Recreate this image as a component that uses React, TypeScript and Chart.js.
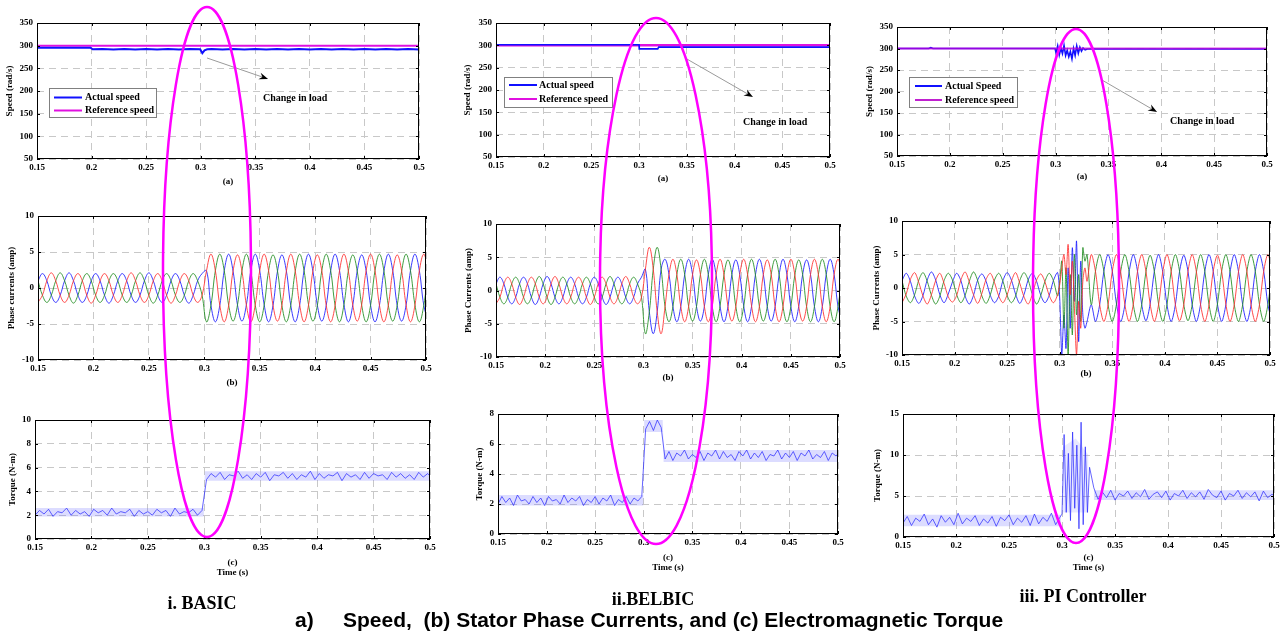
import React, { useEffect, useRef } from 'react';
import { Chart, registerables } from 'chart.js';

Chart.register(...registerables);

const SERIF = 'Liberation Serif';
const SANS = 'Liberation Sans';

// ---------------- axis ticks ----------------
const X_TICKS = [0.15, 0.2, 0.25, 0.3, 0.35, 0.4, 0.45, 0.5];
const SPEED_TICKS = [50, 100, 150, 200, 250, 300, 350];
const CURRENT_TICKS = [-10, -5, 0, 5, 10];
const TORQUE_TICKS_BASIC = [0, 2, 4, 6, 8, 10];
const TORQUE_TICKS_BELBIC = [0, 2, 4, 6, 8];
const TORQUE_TICKS_PI = [0, 5, 10, 15];

// ---------------- time bases (s) ----------------
const T_GRID = [
  0.150, 0.154, 0.158, 0.162, 0.166, 0.170, 0.174, 0.178, 0.182, 0.186, 0.190, 0.194, 0.198,
  0.202, 0.206, 0.210, 0.214, 0.218, 0.222, 0.226, 0.230, 0.234, 0.238, 0.242, 0.246, 0.250,
  0.254, 0.258, 0.262, 0.266, 0.270, 0.274, 0.278, 0.282, 0.286, 0.290, 0.294, 0.298,
  0.302, 0.306, 0.310, 0.314, 0.318, 0.322, 0.326, 0.330, 0.334, 0.338, 0.342, 0.346, 0.350,
  0.354, 0.358, 0.362, 0.366, 0.370, 0.374, 0.378, 0.382, 0.386, 0.390, 0.394, 0.398, 0.402,
  0.406, 0.410, 0.414, 0.418, 0.422, 0.426, 0.430, 0.434, 0.438, 0.442, 0.446, 0.450, 0.454,
  0.458, 0.462, 0.466, 0.470, 0.474, 0.478, 0.482, 0.486, 0.490, 0.494, 0.498, 0.502,
];
const T_PI = [
  0.150, 0.154, 0.158, 0.162, 0.166, 0.170, 0.174, 0.178, 0.182, 0.186, 0.190, 0.194, 0.198,
  0.202, 0.206, 0.210, 0.214, 0.218, 0.222, 0.226, 0.230, 0.234, 0.238, 0.242, 0.246, 0.250,
  0.254, 0.258, 0.262, 0.266, 0.270, 0.274, 0.278, 0.282, 0.286, 0.290, 0.294, 0.298,
  0.300, 0.302, 0.304, 0.306, 0.308, 0.310, 0.312, 0.314, 0.316, 0.318, 0.320, 0.322, 0.324, 0.326,
  0.330, 0.334, 0.338, 0.342, 0.346, 0.350, 0.354, 0.358, 0.362, 0.366, 0.370, 0.374, 0.378,
  0.382, 0.386, 0.390, 0.394, 0.398, 0.402, 0.406, 0.410, 0.414, 0.418, 0.422, 0.426, 0.430,
  0.434, 0.438, 0.442, 0.446, 0.450, 0.454, 0.458, 0.462, 0.466, 0.470, 0.474, 0.478, 0.482,
  0.486, 0.490, 0.494, 0.498, 0.502,
];

// ---------------- speed (rad/s) ----------------
const SPEED_REF_T = [0.15, 0.5];
const SPEED_REF_V = [300, 300];

const BASIC_SPEED_T = [0.15, 0.199, 0.201, 0.21, 0.22, 0.23, 0.24, 0.25, 0.26, 0.27, 0.28, 0.29,
  0.2995, 0.3015, 0.3035, 0.306, 0.31, 0.32, 0.33, 0.34, 0.35, 0.36, 0.37, 0.38, 0.39, 0.4,
  0.41, 0.42, 0.43, 0.44, 0.45, 0.46, 0.47, 0.48, 0.49, 0.5];
const BASIC_SPEED_V = [295.5, 295.5, 292, 292.8, 291.6, 292.8, 291.6, 292.8, 291.6, 292.8, 291.6, 292.8,
  292, 283.5, 289.5, 292, 292.8, 291.6, 292.8, 291.6, 292.8, 291.6, 292.8, 291.6, 292.8, 291.6,
  292.8, 291.6, 292.8, 291.6, 292.8, 291.6, 292.8, 291.6, 292.8, 291.6];

const BELBIC_SPEED_T = [0.15, 0.2999, 0.3001, 0.3195, 0.3205, 0.5];
const BELBIC_SPEED_V = [301.3, 301.3, 292, 292, 296, 296];

const PI_SPEED_T = [0.15, 0.18, 0.182, 0.184, 0.2, 0.25, 0.2995, 0.3005, 0.302, 0.3035, 0.305,
  0.3065, 0.308, 0.3095, 0.311, 0.3125, 0.314, 0.3155, 0.317, 0.3185, 0.32, 0.3215, 0.323,
  0.3245, 0.326, 0.328, 0.33, 0.35, 0.5];
const PI_SPEED_V = [300, 300, 302, 300, 300, 300, 300, 290, 306, 285, 301, 288, 307, 284, 296,
  281, 293, 276, 300, 284, 306, 289, 303, 294, 301, 297, 299, 299, 299];

// ---------------- phase currents (amp) ----------------
const BASIC_IA = [
  -2, -1, 1, 2.1, 1, -1, -2, -1, 1, 2, 1, -1, -2.1, -1, 1, 2, 1, -1, -2, -1, 1, 2.1, 1, -1,
  -2, -1, 1, 2, 1, -1, -2.1, -1, 1, 2, 1, -1, -2, -1,
  2.4, 4.7, 2.4, -2.4, -4.7, -2.4, 2.4, 4.6, 2.3, -2.4, -4.7, -2.3, 2.4, 4.7, 2.4, -2.4, -4.6, -2.4,
  2.3, 4.7, 2.4, -2.3, -4.7, -2.4, 2.4, 4.6, 2.4, -2.4, -4.7, -2.4, 2.4, 4.7, 2.3, -2.4, -4.6, -2.3,
  2.4, 4.7, 2.4, -2.4, -4.7, -2.4, 2.3, 4.6, 2.4, -2.3, -4.7, -2.4, 2.4, 4.7, 2.4,
];
const BASIC_IB = [
  1, -1, -2, -1, 1, 2.1, 1, -1, -2.1, -1, 1, 2, 1, -1, -2, -1, 1, 2, 1, -1, -2, -1, 1, 2.1,
  1, -1, -2.1, -1, 1, 2, 1, -1, -2, -1, 1, 2, 1, -1,
  -4.7, -2.4, 2.4, 4.7, 2.4, -2.4, -4.6, -2.3, 2.4, 4.7, 2.3, -2.4, -4.7, -2.4, 2.4, 4.6, 2.4, -2.4,
  -4.7, -2.4, 2.3, 4.7, 2.4, -2.3, -4.6, -2.4, 2.4, 4.7, 2.4, -2.4, -4.7, -2.3, 2.4, 4.6, 2.3, -2.4,
  -4.7, -2.4, 2.4, 4.7, 2.4, -2.4, -4.6, -2.4, 2.3, 4.7, 2.4, -2.3, -4.7, -2.4, 2.4,
];
const BASIC_IC = [
  1, 2, 1, -1, -2, -1, 1, 2.1, 1, -1, -2, -1, 1, 2, 1, -1, -2.1, -1, 1, 2, 1, -1, -2, -1,
  1, 2.1, 1, -1, -2, -1, 1, 2, 1, -1, -2.1, -1, 1, 2,
  2.4, -2.4, -4.7, -2.4, 2.4, 4.7, 2.3, -2.4, -4.6, -2.3, 2.4, 4.7, 2.4, -2.3, -4.7, -2.4, 2.3, 4.6,
  2.4, -2.4, -4.7, -2.4, 2.4, 4.7, 2.3, -2.4, -4.6, -2.4, 2.4, 4.7, 2.4, -2.3, -4.7, -2.3, 2.4, 4.6,
  2.4, -2.4, -4.7, -2.4, 2.3, 4.7, 2.4, -2.4, -4.6, -2.4, 2.4, 4.7, 2.4, -2.4, -4.7,
];

const BELBIC_IA = [
  -2, -1, 1, 2, 1, -1, -2.1, -1, 1, 2, 1, -1, -2, -1, 1, 2.1, 1, -1, -2, -1, 1, 2, 1, -1,
  -2.1, -1, 1, 2, 1, -1, -2, -1, 1, 2.1, 1, -1, -2, -1,
  3.2, 6.5, 3.2, -3.2, -6.5, -2.4,
  2.4, 4.7, 2.4, -2.4, -4.7, -2.4, 2.4, 4.6, 2.4, -2.4, -4.7, -2.4, 2.4, 4.7, 2.3, -2.4, -4.6, -2.4,
  2.4, 4.7, 2.4, -2.3, -4.7, -2.4, 2.4, 4.6, 2.4, -2.4, -4.7, -2.4, 2.3, 4.7, 2.4, -2.4, -4.6, -2.4,
  2.4, 4.7, 2.4, -2.4, -4.7, -2.4, 2.4, 4.7, 2.4,
];
const BELBIC_IB = [
  1, -1, -2, -1, 1, 2, 1, -1, -2, -1, 1, 2.1, 1, -1, -2.1, -1, 1, 2, 1, -1, -2, -1, 1, 2,
  1, -1, -2, -1, 1, 2.1, 1, -1, -2, -1, 1, 2, 1, -1,
  -6.5, -3.2, 3.2, 6.5, 3.2, -2.4,
  -4.7, -2.4, 2.4, 4.7, 2.4, -2.4, -4.6, -2.4, 2.4, 4.7, 2.4, -2.4, -4.7, -2.3, 2.4, 4.6, 2.4, -2.4,
  -4.7, -2.4, 2.4, 4.7, 2.3, -2.4, -4.6, -2.4, 2.4, 4.7, 2.4, -2.4, -4.7, -2.4, 2.3, 4.6, 2.4, -2.4,
  -4.7, -2.4, 2.4, 4.7, 2.4, -2.4, -4.7, -2.4, 2.4,
];
const BELBIC_IC = [
  1, 2, 1, -1, -2, -1, 1, 2, 1, -1, -2.1, -1, 1, 2.1, 1, -1, -2, -1, 1, 2, 1, -1, -2, -1,
  1, 2, 1, -1, -2.1, -1, 1, 2, 1, -1, -2, -1, 1, 2,
  3.2, -3.2, -6.5, -3.2, 3.2, 4.7,
  2.4, -2.4, -4.7, -2.4, 2.4, 4.7, 2.4, -2.4, -4.6, -2.4, 2.4, 4.7, 2.3, -2.4, -4.7, -2.4, 2.4, 4.6,
  2.4, -2.3, -4.7, -2.4, 2.4, 4.7, 2.4, -2.4, -4.6, -2.4, 2.3, 4.7, 2.4, -2.4, -4.7, -2.4, 2.4, 4.6,
  2.4, -2.4, -4.7, -2.4, 2.4, 4.7, 2.4, -2.4, -4.7,
];

const PI_IA = [
  -2.2, -0.9, 1.3, 2.3, 0.8, -1.2, -2.4, -1.0, 1.1, 2.2, 0.7, -1.3, -2.1, -1.1, 1.2, 2.4, 0.9, -1.0,
  -2.3, -0.8, 1.3, 2.2, 0.8, -1.2, -2.2, -1.0, 1.0, 2.3, 0.7, -1.3, -2.4, -0.9, 1.2, 2.1, 0.9, -1.1,
  -2.2, -1.0,
  0.5, 3, 5, 2, 6.5, -1, 4, -3, -10, -2, -6, 1, 3, 1,
  5, 2.5, -2.5, -5, -2.5, 2.5, 5, 2.4, -2.5, -5, -2.4, 2.5, 5, 2.5, -2.4, -5, -2.5, 2.4,
  5, 2.5, -2.5, -4.9, -2.5, 2.5, 5, 2.4, -2.5, -5, -2.5, 2.5, 4.9, 2.5, -2.4, -5, -2.5, 2.4,
  5, 2.5, -2.5, -5, -2.5, 2.5, 5, 2.5,
];
const PI_IB = [
  1.1, -1.2, -2.2, -1.0, 1.2, 2.3, 1.0, -1.1, -2.4, -1.2, 1.1, 2.2, 1.2, -1.0, -2.2, -1.1, 1.0, 2.4,
  1.1, -1.2, -2.3, -1.0, 1.2, 2.2, 1.0, -1.1, -2.2, -1.2, 1.1, 2.3, 1.2, -1.0, -2.4, -1.1, 1.0, 2.2,
  1.1, -1.2,
  1, 4, -6, 3, -10, 2, -7, 5, -4, 2, -5, 6, 4, 5,
  -2.5, 2.5, 5, 2.5, -2.5, -5, -2.4, 2.5, 5, 2.4, -2.5, -5, -2.5, 2.4, 4.9, 2.5, -2.4, -5,
  -2.5, 2.5, 5, 2.5, -2.5, -4.9, -2.5, 2.4, 5, 2.5, -2.5, -5, -2.4, 2.5, 5, 2.4, -2.5, -5,
  -2.5, 2.5, 5, 2.5, -2.5, -5, -2.5, 2.5,
];
const PI_IC = [
  1.1, 2.2, 1.0, -1.2, -2.3, -1.1, 1.2, 2.4, 1.2, -1.0, -2.2, -0.9, 0.9, 2.2, 1.1, -1.2, -2.4, -1.1,
  1.2, 2.1, 1.0, -1.1, -2.2, -1.2, 1.1, 2.3, 1.2, -0.9, -2.3, -1.0, 1.2, 2.2, 1.0, -1.1, -2.2, -1.1,
  1.1, 2.3,
  -1.5, -10, -4, -9, 3, -6, 6, -2, 7, -8, 4, -4, -6, -5,
  -2.5, -5, -2.5, 2.5, 5, 2.5, -2.4, -5, -2.5, 2.4, 5, 2.5, -2.5, -4.9, -2.4, 2.5, 5, 2.4,
  -2.5, -5, -2.5, 2.5, 4.9, 2.5, -2.5, -5, -2.4, 2.5, 5, 2.5, -2.4, -5, -2.5, 2.4, 5, 2.5,
  -2.5, -5, -2.5, 2.5, 5, 2.5, -2.5, -5,
];

// ---------------- torque (N-m) ----------------
const BASIC_TQ = [
  2.0, 2.4, 2.1, 2.5, 1.9, 2.3, 2.2, 2.6, 2.0, 2.4, 2.1, 2.3, 1.9, 2.5, 2.2, 2.4, 2.0, 2.6, 2.1, 2.3,
  2.2, 2.5, 1.9, 2.4, 2.1, 2.3, 2.0, 2.5, 2.2, 2.4, 1.9, 2.6, 2.1, 2.3, 2.2, 2.5, 2.0, 2.4,
  5.0, 5.5, 5.2, 5.6, 5.0, 5.4, 5.3, 5.7, 5.1, 5.4, 5.0, 5.5, 5.2, 5.6, 4.9, 5.4, 5.3, 5.6, 5.1, 5.5,
  5.0, 5.4, 5.2, 5.7, 5.0, 5.5, 5.1, 5.4, 5.3, 5.6, 4.9, 5.5, 5.2, 5.4, 5.0, 5.6, 5.1, 5.5, 5.3, 5.4,
  5.0, 5.6, 5.2, 5.5, 5.1, 5.4, 5.0, 5.6, 5.2, 5.5, 5.1,
];
const BELBIC_TQ = [
  2.0, 2.5, 2.1, 2.4, 1.9, 2.6, 2.2, 2.3, 2.0, 2.5, 2.1, 2.4, 1.9, 2.5, 2.2, 2.3, 2.0, 2.6, 2.1, 2.4,
  2.2, 2.5, 1.9, 2.3, 2.1, 2.5, 2.0, 2.4, 2.2, 2.6, 1.9, 2.3, 2.1, 2.5, 2.0, 2.4, 2.2, 2.5,
  7.0, 7.5, 6.9, 7.6, 7.1,
  5.0, 5.5, 4.9, 5.4, 5.2, 5.6, 5.0, 5.3, 5.1, 5.5, 4.9, 5.4, 5.2, 5.6, 5.0, 5.5, 5.1, 5.3, 4.9, 5.5,
  5.2, 5.6, 5.0, 5.4, 5.1, 5.5, 4.9, 5.3, 5.2, 5.6, 5.0, 5.4, 5.1, 5.5, 4.9, 5.4, 5.2, 5.6, 5.0, 5.3,
  5.1, 5.5, 4.9, 5.4, 5.2, 5.5,
];
const PI_TQ = [
  1.7, 2.5, 1.4, 2.3, 1.9, 2.8, 1.5, 2.2, 1.2, 2.6, 1.8, 2.4, 1.5, 2.9, 1.6, 2.3, 1.9, 2.6, 1.4, 2.2,
  1.7, 2.5, 1.3, 2.4, 2.0, 2.7, 1.5, 2.3, 1.8, 2.6, 1.4, 2.8, 1.6, 2.4, 1.9, 2.9, 1.5, 2.4,
  2.8, 12.5, 3, 10.2, 2, 12.8, 3.5, 11.2, 1, 14, 1.5, 11, 3, 8.5,
  6.0, 4.6, 5.5, 4.8, 5.7, 4.5, 5.3, 5.0, 5.6, 4.7, 5.4, 4.9, 5.8, 4.6, 5.2, 5.5, 4.8, 5.6, 4.5, 5.3,
  5.0, 5.7, 4.7, 5.4, 4.9, 5.5, 4.6, 5.8, 5.1, 4.8, 5.6, 4.5, 5.3, 5.0, 5.7, 4.7, 5.4, 4.9, 5.5, 4.4,
  5.6, 4.8, 5.2, 5.0,
];

// torque ripple envelopes
const BASIC_BAND_T = [0.15, 0.2995, 0.3005, 0.5];
const BASIC_BAND_HI = [2.6, 2.6, 5.7, 5.7];
const BASIC_BAND_LO = [1.9, 1.9, 4.9, 4.9];
const BELBIC_BAND_T = [0.15, 0.2995, 0.3005, 0.3195, 0.3205, 0.5];
const BELBIC_BAND_HI = [2.6, 2.6, 7.6, 7.6, 5.6, 5.6];
const BELBIC_BAND_LO = [1.9, 1.9, 6.8, 6.8, 4.8, 4.8];
const PI_PRE_BAND_T = [0.15, 0.299];
const PI_PRE_BAND_HI = [2.7, 2.7];
const PI_PRE_BAND_LO = [1.3, 1.3];
const PI_TRANS_BAND_T = [0.301, 0.313, 0.325];
const PI_TRANS_BAND_HI = [11, 12, 10];
const PI_TRANS_BAND_LO = [3, 3, 3];
const PI_POST_BAND_T = [0.33, 0.5];
const PI_POST_BAND_HI = [5.7, 5.7];
const PI_POST_BAND_LO = [4.5, 4.5];

// ---------------- styles ----------------
const C = {
  red: 'rgba(255,45,45,0.85)',
  green: 'rgba(30,140,30,0.85)',
  blue: 'rgba(25,25,255,0.85)',
  actual: '#1010ff',
  ref: '#e010e0',
  refPI: 'rgba(200,0,215,0.72)',
  refPILegend: '#c020d0',
  torque: 'rgba(40,40,255,0.9)',
  band: 'rgba(120,120,255,0.26)',
  bandLight: 'rgba(140,140,255,0.2)',
};

const pts = (t: number[], v: number[]) => t.map((x, i) => ({ x, y: v[i] }));
const line = (t: number[], v: number[], color: string, width = 1, tension = 0) => ({
  data: pts(t, v), borderColor: color, borderWidth: width, tension, pointRadius: 0, fill: false,
});
const band = (t: number[], hi: number[], lo: number[], color: string) => [
  { data: pts(t, hi), borderColor: 'rgba(0,0,0,0)', borderWidth: 1, pointRadius: 0, fill: false },
  { data: pts(t, lo), borderColor: 'rgba(0,0,0,0)', borderWidth: 1, pointRadius: 0, fill: '-1', backgroundColor: color },
];

type Legend = { dx: number; dy: number; w: number; h: number; rowY: number[]; lineX: number[]; textX: number; rows: { label: string; color: string }[] };
type Spec = {
  id: string;
  box: { x: number; y: number; w: number; h: number };
  yW: number; pt: number; pr: number; xH: number;
  xTitle: string | string[]; xTitlePad: number;
  yTitle: string; yTitlePad: number;
  yTicks: number[];
  datasets: any[];
  legend?: Legend;
  arrow?: { from: [number, number]; to: [number, number] };
  note?: { at: [number, number]; text: string };
};

const speedLegend = (first: string, dx: number, dy: number, w: number, h: number, rowY: number[], lineX: number[], textX: number, refColor: string): Legend => ({
  dx, dy, w, h, rowY, lineX, textX,
  rows: [{ label: first, color: C.actual }, { label: 'Reference speed', color: refColor }],
});

const currents = (t: number[], a: number[], b: number[], c: number[], tension: number) => [
  line(t, a, C.red, 1, tension), line(t, b, C.green, 1, tension), line(t, c, C.blue, 1, tension),
];

const PANELS: Spec[] = [
  {
    id: 'basic-speed', box: { x: 0, y: 10, w: 431, h: 179 }, yW: 37, pt: 13, pr: 12, xH: 30,
    xTitle: '(a)', xTitlePad: 1.5, yTitle: 'Speed (rad/s)', yTitlePad: 4.6, yTicks: SPEED_TICKS,
    datasets: [line(BASIC_SPEED_T, BASIC_SPEED_V, C.actual, 2), line(SPEED_REF_T, SPEED_REF_V, C.ref, 2)],
    legend: speedLegend('Actual speed', 12, 65, 107, 29, [9.5, 22.5], [5, 33], 36, C.ref),
    arrow: { from: [0.3058, 272.8], to: [0.3617, 226.5] },
    note: { at: [0.357, 184.6], text: 'Change in load' },
  },
  {
    id: 'basic-current', box: { x: 0, y: 205, w: 436, h: 185 }, yW: 38, pt: 11, pr: 10, xH: 30,
    xTitle: '(b)', xTitlePad: 1.6, yTitle: 'Phase currents (amp)', yTitlePad: 6.6, yTicks: CURRENT_TICKS,
    datasets: currents(T_GRID, BASIC_IA, BASIC_IB, BASIC_IC, 0.4),
  },
  {
    id: 'basic-torque', box: { x: 0, y: 408, w: 440, h: 172 }, yW: 35, pt: 12, pr: 10, xH: 41,
    xTitle: ['(c)', 'Time (s)'], xTitlePad: 1.6, yTitle: 'Torque (N-m)', yTitlePad: 7.6, yTicks: TORQUE_TICKS_BASIC,
    datasets: [line(T_GRID, BASIC_TQ, C.torque, 0.8), ...band(BASIC_BAND_T, BASIC_BAND_HI, BASIC_BAND_LO, C.band)],
  },
  {
    id: 'belbic-speed', box: { x: 455, y: 10, w: 387, h: 176 }, yW: 41, pt: 13, pr: 12, xH: 29,
    xTitle: '(a)', xTitlePad: 1.6, yTitle: 'Speed (rad/s)', yTitlePad: 7.6, yTicks: SPEED_TICKS,
    datasets: [line(BELBIC_SPEED_T, BELBIC_SPEED_V, C.actual, 1.6), line(SPEED_REF_T, SPEED_REF_V, C.ref, 2.5)],
    legend: speedLegend('Actual speed', 8, 54, 108, 30, [8, 22], [5, 33], 35, C.ref),
    arrow: { from: [0.35, 269.4], to: [0.4193, 184.3] },
    note: { at: [0.4088, 128.4], text: 'Change in load' },
  },
  {
    id: 'belbic-current', box: { x: 455, y: 212, w: 395, h: 173 }, yW: 41, pt: 12, pr: 10, xH: 28,
    xTitle: '(b)', xTitlePad: 1.6, yTitle: 'Phase Currents (amp)', yTitlePad: 8.6, yTicks: CURRENT_TICKS,
    datasets: currents(T_GRID, BELBIC_IA, BELBIC_IB, BELBIC_IC, 0.4),
  },
  {
    id: 'belbic-torque', box: { x: 465, y: 402, w: 383, h: 173 }, yW: 33, pt: 12, pr: 10, xH: 41,
    xTitle: ['(c)', 'Time (s)'], xTitlePad: 1.6, yTitle: 'Torque (N-m)', yTitlePad: 9.6, yTicks: TORQUE_TICKS_BELBIC,
    datasets: [line(T_GRID, BELBIC_TQ, C.torque, 0.8), ...band(BELBIC_BAND_T, BELBIC_BAND_HI, BELBIC_BAND_LO, C.band)],
  },
  {
    id: 'pi-speed', box: { x: 858, y: 14, w: 423, h: 170 }, yW: 39, pt: 13, pr: 14, xH: 28,
    xTitle: '(a)', xTitlePad: 1.6, yTitle: 'Speed (rad/s)', yTitlePad: 6.6, yTicks: SPEED_TICKS,
    datasets: [line(SPEED_REF_T, SPEED_REF_V, C.refPI, 2.2), line(PI_SPEED_T, PI_SPEED_V, C.actual, 1.6)],
    legend: speedLegend('Actual Speed', 12, 50, 108, 30, [9, 23], [6, 33], 36, C.refPILegend),
    arrow: { from: [0.3439, 226.7], to: [0.396, 152.3] },
    note: { at: [0.4082, 131.4], text: 'Change in load' },
  },
  {
    id: 'pi-current', box: { x: 862, y: 209, w: 420, h: 172 }, yW: 40, pt: 12, pr: 12, xH: 26,
    xTitle: '(b)', xTitlePad: 1.6, yTitle: 'Phase Currents (amp)', yTitlePad: 9.6, yTicks: CURRENT_TICKS,
    datasets: currents(T_PI, PI_IA, PI_IB, PI_IC, 0.3),
  },
  {
    id: 'pi-torque', box: { x: 865, y: 402, w: 419, h: 173 }, yW: 38, pt: 12, pr: 10, xH: 38,
    xTitle: ['(c)', 'Time (s)'], xTitlePad: 1.6, yTitle: 'Torque (N-m)', yTitlePad: 7.6, yTicks: TORQUE_TICKS_PI,
    datasets: [
      line(T_PI, PI_TQ, C.torque, 0.8),
      ...band(PI_PRE_BAND_T, PI_PRE_BAND_HI, PI_PRE_BAND_LO, C.band),
      ...band(PI_TRANS_BAND_T, PI_TRANS_BAND_HI, PI_TRANS_BAND_LO, C.bandLight),
      ...band(PI_POST_BAND_T, PI_POST_BAND_HI, PI_POST_BAND_LO, C.band),
    ],
  },
];

function decoPlugin(s: Spec) {
  return {
    id: 'deco-' + s.id,
    afterDraw(chart: any) {
      const { ctx, chartArea: a, scales } = chart;
      const xs = scales.x, ys = scales.y;
      ctx.save();
      ctx.strokeStyle = '#000';
      ctx.lineWidth = 1;
      ctx.setLineDash([]);
      ctx.strokeRect(Math.round(a.left) + 0.5, Math.round(a.top) + 0.5, Math.round(a.right - a.left) - 1, Math.round(a.bottom - a.top) - 1);
      ctx.beginPath();
      for (const t of xs.ticks) {
        const px = Math.round(xs.getPixelForValue(t.value)) + 0.5;
        ctx.moveTo(px, a.bottom); ctx.lineTo(px, a.bottom - 3);
        ctx.moveTo(px, a.top); ctx.lineTo(px, a.top + 3);
      }
      for (const t of ys.ticks) {
        const py = Math.round(ys.getPixelForValue(t.value)) + 0.5;
        ctx.moveTo(a.left, py); ctx.lineTo(a.left + 3, py);
        ctx.moveTo(a.right, py); ctx.lineTo(a.right - 3, py);
      }
      ctx.stroke();
      if (s.arrow) {
        const x1 = xs.getPixelForValue(s.arrow.from[0]), y1 = ys.getPixelForValue(s.arrow.from[1]);
        const x2 = xs.getPixelForValue(s.arrow.to[0]), y2 = ys.getPixelForValue(s.arrow.to[1]);
        const ang = Math.atan2(y2 - y1, x2 - x1);
        ctx.strokeStyle = '#9a9a9a';
        ctx.lineWidth = 1;
        ctx.beginPath(); ctx.moveTo(x1, y1); ctx.lineTo(x2 - 6 * Math.cos(ang), y2 - 6 * Math.sin(ang)); ctx.stroke();
        ctx.fillStyle = '#000';
        ctx.beginPath();
        ctx.moveTo(x2, y2);
        ctx.lineTo(x2 - 9 * Math.cos(ang) + 3.5 * Math.sin(ang), y2 - 9 * Math.sin(ang) - 3.5 * Math.cos(ang));
        ctx.lineTo(x2 - 6 * Math.cos(ang), y2 - 6 * Math.sin(ang));
        ctx.lineTo(x2 - 9 * Math.cos(ang) - 3.5 * Math.sin(ang), y2 - 9 * Math.sin(ang) + 3.5 * Math.cos(ang));
        ctx.closePath();
        ctx.fill();
      }
      if (s.note) {
        ctx.fillStyle = '#000';
        ctx.font = `bold 10px "${SERIF}"`;
        ctx.textAlign = 'left';
        ctx.textBaseline = 'middle';
        ctx.fillText(s.note.text, xs.getPixelForValue(s.note.at[0]), ys.getPixelForValue(s.note.at[1]));
      }
      if (s.legend) {
        const L = s.legend;
        const x0 = Math.round(a.left + L.dx), y0 = Math.round(a.top + L.dy);
        ctx.fillStyle = '#fff';
        ctx.fillRect(x0, y0, L.w, L.h);
        ctx.strokeStyle = '#808080';
        ctx.lineWidth = 1;
        ctx.strokeRect(x0 + 0.5, y0 + 0.5, L.w, L.h);
        L.rows.forEach((r, i) => {
          const y = y0 + L.rowY[i];
          ctx.strokeStyle = r.color;
          ctx.lineWidth = 2;
          ctx.beginPath(); ctx.moveTo(x0 + L.lineX[0], y); ctx.lineTo(x0 + L.lineX[1], y); ctx.stroke();
          ctx.fillStyle = '#000';
          ctx.font = `bold 10px "${SERIF}"`;
          ctx.textAlign = 'left';
          ctx.textBaseline = 'middle';
          ctx.fillText(r.label, x0 + L.textX, y);
        });
      }
      ctx.restore();
    },
  };
}

function makeConfig(s: Spec) {
  const font = { family: SERIF, weight: 'bold' as const, size: 9 };
  const grid = { color: '#c8c8c8', drawTicks: false, lineWidth: 1 };
  const border = { display: false, dash: [7, 5] };
  return {
    type: 'line',
    data: { datasets: s.datasets },
    options: {
      responsive: false,
      animation: false,
      events: [],
      layout: { padding: { top: s.pt, right: s.pr, left: 0, bottom: 0 } },
      plugins: { legend: { display: false }, tooltip: { enabled: false } },
      scales: {
        x: {
          type: 'linear', min: 0.15, max: 0.5,
          afterBuildTicks: (sc: any) => { sc.ticks = X_TICKS.map((v) => ({ value: v })); },
          afterFit: (sc: any) => { sc.height = s.xH; },
          ticks: { font, color: '#000', padding: 3, maxRotation: 0, autoSkip: false, callback: (v: any) => String(Math.round(Number(v) * 100) / 100) },
          grid, border,
          title: { display: true, text: s.xTitle, font, color: '#000', padding: { top: 0, bottom: s.xTitlePad } },
        },
        y: {
          type: 'linear', min: s.yTicks[0], max: s.yTicks[s.yTicks.length - 1],
          afterBuildTicks: (sc: any) => { sc.ticks = s.yTicks.map((v) => ({ value: v })); },
          afterFit: (sc: any) => { sc.width = s.yW; },
          ticks: { font, color: '#000', padding: 4, autoSkip: false },
          grid, border,
          title: { display: true, text: s.yTitle, font, color: '#000', padding: { top: s.yTitlePad, bottom: 0 } },
        },
      },
    },
    plugins: [decoPlugin(s)],
  };
}

function Panel({ spec }: { spec: Spec }) {
  const ref = useRef<HTMLCanvasElement>(null);
  useEffect(() => {
    if (!ref.current) return;
    const chart = new Chart(ref.current, makeConfig(spec) as any);
    return () => chart.destroy();
  }, [spec]);
  return (
    <canvas
      ref={ref}
      width={spec.box.w}
      height={spec.box.h}
      style={{ position: 'absolute', left: spec.box.x, top: spec.box.y, width: spec.box.w, height: spec.box.h }}
    />
  );
}

const ELLIPSES = [
  { cx: 207, cy: 272, rx: 44, ry: 265 },
  { cx: 656, cy: 281, rx: 56, ry: 263 },
  { cx: 1076, cy: 286, rx: 43, ry: 257 },
];

const SUBTITLES = [
  { text: 'i. BASIC', x: 202, y: 603 },
  { text: 'ii.BELBIC', x: 653, y: 599 },
  { text: 'iii. PI Controller', x: 1083, y: 596 },
];

export default function App() {
  return (
    <div style={{ position: 'fixed', left: 0, top: 0, width: 1284, height: 631, background: '#fff', overflow: 'hidden' }}>
      {PANELS.map((p) => <Panel key={p.id} spec={p} />)}
      <svg width={1284} height={631} style={{ position: 'absolute', left: 0, top: 0, pointerEvents: 'none' }}>
        {ELLIPSES.map((e, i) => (
          <ellipse key={i} cx={e.cx} cy={e.cy} rx={e.rx} ry={e.ry} fill="none" stroke="#ff00ff" strokeWidth={2.5} />
        ))}
      </svg>
      {SUBTITLES.map((s) => (
        <div key={s.text} style={{ position: 'absolute', left: s.x, top: s.y, transform: 'translate(-50%,-50%)', font: `bold 18px "${SERIF}"`, lineHeight: '1', whiteSpace: 'nowrap', color: '#000' }}>
          {s.text}
        </div>
      ))}
      <div style={{ position: 'absolute', left: 295, top: 619, transform: 'translateY(-50%)', font: `bold 21px "${SANS}"`, lineHeight: '1', whiteSpace: 'nowrap', color: '#000' }}>a)</div>
      <div style={{ position: 'absolute', left: 343, top: 619, transform: 'translateY(-50%)', font: `bold 21px "${SANS}"`, lineHeight: '1', whiteSpace: 'pre', color: '#000' }}>
        {'Speed,  (b) Stator Phase Currents, and (c) Electromagnetic Torque'}
      </div>
    </div>
  );
}
